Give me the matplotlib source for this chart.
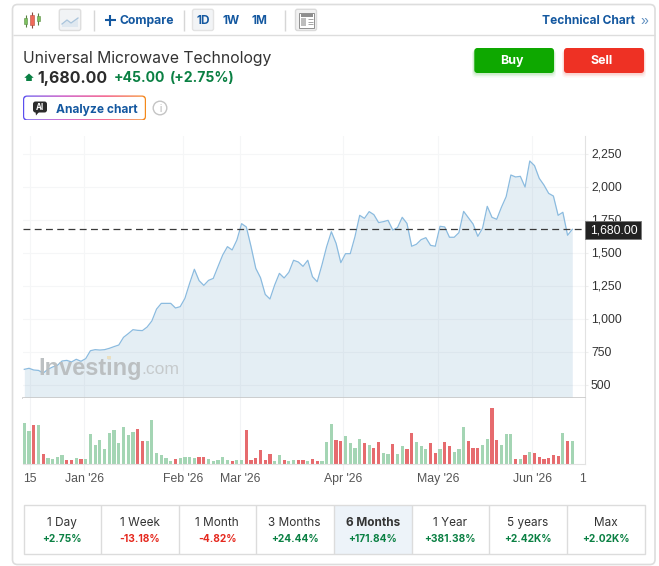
import numpy as np
import matplotlib
matplotlib.use("Agg")
import matplotlib.pyplot as plt
from matplotlib.patches import FancyBboxPatch, Rectangle, Polygon, Circle
from matplotlib.transforms import ScaledTranslation

# ---------- data ----------
price = [621, 629, 616, 613, 593, 621, 639, 651, 684, 689, 677, 697, 682, 702, 762, 770, 767, 770, 780, 793,
         805, 863, 891, 921, 916, 914, 941, 987, 1077, 1120, 1120, 1120, 1085, 1095, 1158, 1272, 1378, 1292, 1256, 1294,
         1309, 1398, 1486, 1549, 1524, 1599, 1723, 1698, 1549, 1385, 1314, 1188, 1153, 1259, 1347, 1312, 1355, 1446, 1433, 1400,
         1446, 1322, 1284, 1410, 1549, 1662, 1574, 1428, 1496, 1496, 1625, 1786, 1763, 1814, 1791, 1731, 1738, 1748, 1675, 1693,
         1771, 1725, 1552, 1567, 1602, 1617, 1559, 1552, 1703, 1698, 1620, 1620, 1655, 1816, 1768, 1720, 1627, 1688, 1854, 1771,
         1756, 1847, 1927, 2091, 2076, 2081, 2000, 2197, 2162, 2066, 2015, 1952, 1932, 1786, 1809, 1635, 1680]
volume = [123, 99, 117, 117, 30, 18, 15, 21, 27, 12, 12, 18, 15, 15, 90, 57, 72, 45, 93, 102,
          63, 111, 87, 96, 105, 69, 69, 132, 33, 27, 18, 9, 15, 18, 21, 21, 18, 21, 21, 15,
          9, 12, 21, 12, 9, 12, 12, 102, 12, 18, 42, 12, 30, 9, 27, 12, 9, 12, 12, 12,
          9, 15, 9, 9, 66, 120, 72, 69, 84, 63, 48, 75, 63, 57, 48, 66, 33, 30, 60, 30,
          54, 45, 93, 66, 54, 45, 63, 33, 45, 66, 54, 36, 45, 111, 69, 48, 48, 57, 75, 168,
          72, 57, 90, 90, 15, 15, 27, 36, 33, 21, 15, 18, 27, 24, 93, 69, 69]
red_days = [2, 4, 9, 10, 12, 24, 25, 32, 37, 38, 44, 47, 48, 49, 50, 51, 52, 55, 58, 59, 61, 62, 66, 67,
            72, 74, 75, 78, 81, 82, 86, 87, 89, 90, 94, 95, 96, 99, 100, 104, 106, 108, 109, 110, 111, 112, 113, 115]
price_ticks = [500, 750, 1000, 1250, 1500, 1750, 2000, 2250]
date_pos = [1.27, 12.7, 33.6, 45.7, 67.5, 87.6, 107.5]
date_labels = ["15", "Jan '26", "Feb '26", "Mar '26", "Apr '26", "May '26", "Jun '26"]
last_price = 1680
periods = ["1 Day", "1 Week", "1 Month", "3 Months", "6 Months", "1 Year", "5 years", "Max"]
changes = ["+2.75%", "-13.18%", "-4.82%", "+24.44%", "+171.84%", "+381.38%", "+2.42K%", "+2.02K%"]

# ---------- figure ----------
W, H = 659, 566
fig = plt.figure(figsize=(W / 100, H / 100), dpi=100, facecolor="white")
px = lambda v: v * 0.72
SANS = ["Liberation Sans", "DejaVu Sans"]
UI = ["Inter", "DejaVu Sans"]
BLUE = "#1458a0"
GREEN = "#0a8043"
RED = "#e5281e"
INK = "#333333"


def rect(l, t, r, b):
    return [l / W, 1 - b / H, (r - l) / W, (b - t) / H]


x = np.arange(len(price))
xlim = (-0.275, 118.69)

ax = fig.add_axes(rect(23, 136, 585, 398.3))
ax.set_xlim(xlim)
ax.set_ylim(402, 2386)
ax.fill_between(x, price, 0, color="#2f78ae", alpha=0.125, lw=0, zorder=2)
ax.plot(x, price, color="#8bbbdf", lw=0.9, zorder=3)
ax.axhline(last_price, color="#3a3a3a", lw=0.9, dashes=(5.5, 3.5), zorder=4)
ax.set_yticks(price_ticks, [f"{v:,}" for v in price_ticks])
ax.set_xticks(date_pos)
ax.yaxis.tick_right()
ax.tick_params(axis="y", length=1.8, color="#eeeeee", pad=2.5, labelcolor=INK, labelsize=px(12.2))
ax.tick_params(axis="x", length=0, labelbottom=False)
lift = ScaledTranslation(0, 1 / 100, fig.dpi_scale_trans)
for lab in ax.get_yticklabels():
    lab.set_family(SANS)
    lab.set_transform(lab.get_transform() + lift)
ax.grid(True, color="#f5f6f7", lw=0.8, zorder=0)
ax.set_axisbelow(True)
for s in ["top", "left"]:
    ax.spines[s].set_visible(False)
ax.spines["right"].set_color("#e2e2e2")
ax.spines["bottom"].set_color("#c8c8c8")
ax.spines["bottom"].set_linewidth(1.2)

vx = fig.add_axes(rect(23, 398.3, 585, 464.3))
vx.set_xlim(xlim)
vx.set_ylim(0, 198)
colors = ["#e66b6e" if i in red_days else "#a4d5b4" for i in x]
vx.bar(x, volume, width=0.68, color=colors, lw=0, zorder=2)
vx.set_yticks([])
vx.set_xticks(date_pos, date_labels)
vx.tick_params(axis="x", length=4, color="#f2f3f5", pad=2, labelcolor="#555555", labelsize=px(12.2))
for lab in vx.get_xticklabels():
    lab.set_family(SANS)
vx.grid(True, axis="x", color="#f2f3f5", lw=0.8, zorder=0)
vx.set_axisbelow(True)
for s in ["top", "left"]:
    vx.spines[s].set_visible(False)
vx.spines["right"].set_color("#e2e2e2")
vx.spines["bottom"].set_color("#e2e2e2")

# ---------- interface overlay (pixel coordinates) ----------
ui = fig.add_axes([0, 0, 1, 1])
ui.set_xlim(0, W)
ui.set_ylim(H, 0)
ui.axis("off")
ui.patch.set_alpha(0)


def T(xx, yy, s, size, color=INK, weight="normal", ha="left", fam=UI, **kw):
    return ui.text(xx, yy, s, fontsize=px(size), color=color, fontweight=weight, ha=ha, va="baseline",
                   family=fam, **kw)


def box(l, t, r, b, fc="none", ec="none", lw=1.0, rad=2.0, z=2, alpha=None):
    p = FancyBboxPatch((l, t), r - l, b - t, boxstyle=f"round,pad=0,rounding_size={rad}", fc=fc, ec=ec, lw=lw,
                       zorder=z, alpha=alpha)
    ui.add_patch(p)
    return p


def seg(xs, ys, color, lw=1.0, z=3):
    ui.plot(xs, ys, color=color, lw=lw, zorder=z, solid_capstyle="butt")


# card
box(12.5, 4.5, 655, 564.5, ec="#dddddd", lw=1.2, rad=5, z=1)
seg([12.5, 655], [35.3, 35.3], "#dddddd", 1.0)

# toolbar icons
seg([25.5, 25.5], [15, 27], "#55803f", 0.8)
ui.add_patch(Rectangle((24, 17.5), 3, 6.5, fc="#7cc05f", ec="#5c8f45", lw=0.4, zorder=4))
seg([32, 32], [12, 28], "#8a4a40", 0.8)
ui.add_patch(Rectangle((30.3, 15), 3.4, 9.5, fc="#ef6a5a", ec="#b5503f", lw=0.4, zorder=4))
seg([38.2, 38.2], [13, 25], "#55803f", 0.8)
ui.add_patch(Rectangle((36.7, 16), 3, 4.5, fc="#7cc05f", ec="#5c8f45", lw=0.4, zorder=4))
box(59.3, 9.3, 80.7, 30.5, fc="#f1f3f5", ec="#dedede", rad=2)
ui.add_patch(Polygon([(62, 27), (62, 24), (67, 20), (71, 23), (78, 18), (78, 27)], fc="#dfe8f0", ec="none", zorder=3))
ui.plot([62, 67, 71, 78], [24, 20, 23, 18], color="#a9c4dc", lw=0.9, zorder=4)
for sx in (93.5, 183.5, 284.5):
    seg([sx, sx], [9.5, 31], "#d6d6d6", 1.0)
seg([104.5, 115.5], [20, 20], BLUE, 1.5)
seg([110, 110], [14.5, 25.5], BLUE, 1.5)
T(119.5, 24.3, "Compare", 12.2, BLUE, "bold")
box(192.5, 9.3, 213.5, 30.5, fc="#f2f4f6", ec="#e3e3e3", rad=2)
T(203, 24.3, "1D", 11.8, BLUE, "bold", ha="center")
T(231, 24.3, "1W", 11.8, BLUE, "bold", ha="center")
T(259.5, 24.3, "1M", 11.8, BLUE, "bold", ha="center")
box(295.5, 9.3, 316.5, 30.5, fc="#f1f1f1", ec="#dadada", rad=2)
ui.add_patch(Rectangle((299, 12.5), 15, 15, fc="white", ec="#8f8f8f", lw=0.7, zorder=3))
ui.add_patch(Rectangle((300.5, 14), 12, 2.5, fc="#8f8f8f", ec="none", zorder=4))
ui.add_patch(Rectangle((300.5, 18), 5.5, 7.5, fc="#bdbdbd", ec="none", zorder=4))
for yy in (19, 21.5, 24):
    seg([307.5, 312.5], [yy, yy], "#a5a5a5", 0.7, 4)
T(634.5, 24.3, "Technical Chart", 12.0, BLUE, "bold", ha="right")
T(640, 24.5, "»", 14, "#5f8fc0", ha="left", fam=SANS)

# header
T(23, 62.5, "Universal Microwave Technology", 15.75, "#333333")
ui.add_patch(Polygon([(29, 73.5), (33.7, 77.8), (31.8, 77.8), (31.8, 81), (26.2, 81), (26.2, 77.8), (24.3, 77.8)],
                     fc=GREEN, ec="none", zorder=3))
T(37.5, 83, "1,680.00", 15.8, "#2b2b2b", "bold")
T(113.5, 82.5, "+45.00", 14.0, GREEN, "bold")
T(169.5, 82.5, "(+2.75%)", 14.0, GREEN, "bold")

# Buy / Sell
for k, a in ((4, 0.05), (2.5, 0.07), (1.2, 0.1)):
    box(474 - k / 2, 50, 554 + k / 2, 73.5 + k, fc="#0ea800", rad=4, z=2, alpha=a)
    box(564 - k / 2, 50, 644 + k / 2, 73.5 + k, fc="#ee3124", rad=4, z=2, alpha=a)
box(474.3, 48, 554, 73, fc="#0ea800", rad=3, z=3)
box(564, 48, 644, 73, fc="#ee3124", rad=3, z=3)
T(512, 64, "Buy", 12.4, "white", "bold", ha="center", zorder=5)
T(602, 64, "Sell", 12.4, "white", "bold", ha="center", zorder=5)

# Analyze chart button with gradient border
grad = np.linspace(0, 1, 256)[None, :]
cmap = matplotlib.colors.LinearSegmentedColormap.from_list("ai", ["#5a50f0", "#c030b8", "#f0306a", "#f58a1a"])
im = ui.imshow(grad, extent=(23, 146, 120.5, 95.5), cmap=cmap, aspect="auto", zorder=2)
clip = box(23, 95.5, 146, 120.5, fc="none", rad=4, z=1)
im.set_clip_path(clip)
ui.set_xlim(0, W)
ui.set_ylim(H, 0)
box(24.2, 96.7, 144.8, 119.3, fc="white", rad=3, z=3)
box(33, 101.5, 47, 112.5, fc="#2b2b2b", rad=2.5, z=4)
ui.add_patch(Polygon([(35.5, 112), (39, 112), (36, 115.5)], fc="#2b2b2b", ec="none", zorder=4))
T(40, 110, "AI", 8, "white", "bold", ha="center", zorder=5)
T(56, 112.5, "Analyze chart", 12.0, BLUE, "bold", zorder=5)
ui.add_patch(Circle((160, 108), 6.8, fc="white", ec="#c4c4c4", lw=1.0, zorder=3))
T(160, 112, "i", 10, "#b5b5b5", ha="center", fam=SANS, zorder=4)

# watermark
T(38.5, 374.5, "Investing", 23.5, "#b9bdbf", "bold", fam=SANS, zorder=3, alpha=0.95)
T(141.2, 374.5, ".com", 17.5, "#c6cacc", fam=SANS, zorder=3)
ui.add_patch(Rectangle((107, 355.5), 4, 3.5, fc="#eadfc0", ec="none", zorder=4))

# last price tag
ui.add_patch(Rectangle((585, 220.5), 55.5, 18, fc="#222222", ec="#777777", lw=0.6, zorder=6))
T(590.3, 233.4, "1,680.00", 12.2, "white", fam=SANS, zorder=7)

# clipped tick at right edge of the time axis
T(579.5, 481.8, "1", 12.2, "#555555", fam=SANS)

# period table
edges = [23.5, 100.5, 178.5, 256, 333.5, 411.7, 488.5, 566.7, 644.5]
ui.add_patch(Rectangle((333.5, 504.5), 78.2, 49, fc="#edf3f9", ec="none", zorder=2))
ui.add_patch(Rectangle((23.5, 504.5), 621, 49, fc="none", ec="#dcdcdc", lw=1.0, zorder=3))
for e in edges[1:-1]:
    seg([e, e], [504.5, 553.5], "#dcdcdc", 1.0)
for i, (name, ch) in enumerate(zip(periods, changes)):
    cx = (edges[i] + edges[i + 1]) / 2
    T(cx, 525.8, name, 11.8, "#333333", "bold" if i == 4 else "normal", ha="center", zorder=5)
    T(cx, 541.6, ch, 10.2, RED if ch.startswith("-") else GREEN, "bold", ha="center", zorder=5)

fig.savefig("out.png", dpi=100, facecolor="white")
